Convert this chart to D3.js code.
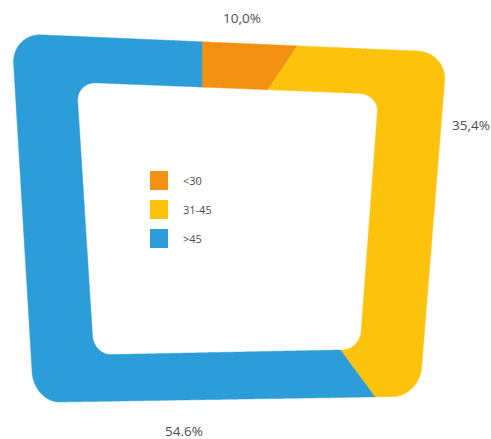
<!DOCTYPE html>
<html>
<head>
<meta charset="utf-8">
<script src="https://cdn.jsdelivr.net/npm/d3@7"></script>
<style>
  html, body { margin: 0; padding: 0; background: #fff; }
  svg { display: block; }
  text { font-family: "Open Sans", "DejaVu Sans", sans-serif; fill: #4d4d4d; }
</style>
</head>
<body>
<div id="chart"></div>
<script>
// ---- data ----
const categories = ["<30", "31-45", ">45"];
const values = [10.0, 35.4, 54.6];
const valueLabels = ["10,0%", "35,4%", "54.6%"];
const colors = ["#F29111", "#FDC20C", "#2D9DD9"];

// ---- layout ----
const W = 491, H = 439;
const outerRing = {
  quad: { tl: [11.8, 33.6], tr: [446.9, 52.3], br: [419.3, 396.2], bl: [33.9, 402.4] },
  radius: [0.135, 0.165], origin: [0.025, -0.33], offset: 0
};
const innerRing = {
  quad: { tl: [76.5, 82.1], tr: [378.7, 94.1], br: [359.8, 349.6], bl: [93.7, 354.9] },
  radius: [0.13, 0.14], origin: [0.017, -0.33], offset: -2.9 * Math.PI / 180
};
const startAngle = -12.7 * Math.PI / 180;

const svg = d3.select("#chart").append("svg").attr("width", W).attr("height", H);
svg.append("rect").attr("width", W).attr("height", H).attr("fill", "#fff");

function inside(x, y, r) {
  const ax = Math.abs(x), ay = Math.abs(y);
  if (ax > 1 || ay > 1) return false;
  const cx = 1 - r[0], cy = 1 - r[1];
  if (ax > cx && ay > cy) {
    const dx = (ax - cx) / r[0], dy = (ay - cy) / r[1];
    return dx * dx + dy * dy <= 1;
  }
  return true;
}
function ringPoint(ring, angle) {
  const a = angle + ring.offset;
  const dx = Math.sin(a), dy = -Math.cos(a), o = ring.origin;
  let lo = 0, hi = 4;
  for (let i = 0; i < 40; i++) {
    const m = (lo + hi) / 2;
    if (inside(o[0] + dx * m, o[1] + dy * m, ring.radius)) lo = m; else hi = m;
  }
  const u = (o[0] + dx * lo + 1) / 2, v = (o[1] + dy * lo + 1) / 2, q = ring.quad;
  return [
    (1 - u) * (1 - v) * q.tl[0] + u * (1 - v) * q.tr[0] + u * v * q.br[0] + (1 - u) * v * q.bl[0],
    (1 - u) * (1 - v) * q.tl[1] + u * (1 - v) * q.tr[1] + u * v * q.br[1] + (1 - u) * v * q.bl[1]
  ];
}

const pie = d3.pie().sort(null).value(d => d)
  .startAngle(startAngle).endAngle(startAngle + 2 * Math.PI);
const arcs = pie(values);
const line = d3.line();

svg.append("g").selectAll("path").data(arcs).join("path")
  .attr("d", d => {
    const n = Math.max(4, Math.ceil((d.endAngle - d.startAngle) / (0.25 * Math.PI / 180)));
    const outer = [], inner = [];
    for (let i = 0; i <= n; i++) {
      const a = d.startAngle + (d.endAngle - d.startAngle) * i / n;
      outer.push(ringPoint(outerRing, a));
      inner.push(ringPoint(innerRing, a));
    }
    return line(outer.concat(inner.reverse())) + "Z";
  })
  .attr("fill", (d, i) => colors[i])
  .attr("stroke", (d, i) => colors[i])
  .attr("stroke-width", 0.5)
  .attr("stroke-linejoin", "round");

// value labels
const labelPos = [[242, 23, "middle"], [452, 130, "start"], [165, 436, "start"]];
svg.append("g").selectAll("text").data(valueLabels).join("text")
  .attr("x", (d, i) => labelPos[i][0])
  .attr("y", (d, i) => labelPos[i][1])
  .attr("text-anchor", (d, i) => labelPos[i][2])
  .attr("font-size", 13.5)
  .text(d => d);

// legend
const legend = svg.append("g").attr("transform", "translate(150,171)");
const li = legend.selectAll("g").data(categories).join("g")
  .attr("transform", (d, i) => `translate(0,${i * 29})`);
li.append("rect").attr("width", 18).attr("height", 19).attr("fill", (d, i) => colors[i]);
li.append("text").attr("x", 33).attr("y", 10).attr("dy", "0.35em")
  .attr("font-size", 11).text(d => d);
</script>
</body>
</html>
